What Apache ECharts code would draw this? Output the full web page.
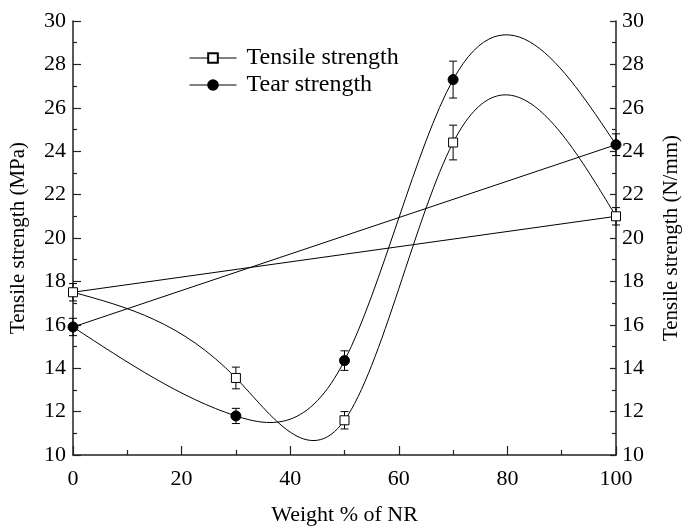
<!DOCTYPE html>
<html>
<head>
<meta charset="utf-8">
<script src="https://cdn.jsdelivr.net/npm/echarts@6/dist/echarts.min.js"></script>
<style>
  html, body { margin: 0; padding: 0; background: #fff; }
  #chart { width: 690px; height: 531px; }
</style>
</head>
<body>
<div id="chart"></div>
<script>
// Blend composition (weight % of NR)
const nrWeight = [0, 30, 50, 70, 100];

// Tensile strength (MPa) and its error
const tensile = [17.5, 13.55, 11.6, 24.4, 21.0];
const tensileErr = [0.4, 0.5, 0.4, 0.8, 0.4];

// Tear strength (N/mm) and its error
const tear = [15.9, 11.8, 14.35, 27.3, 24.3];
const tearErr = [0.4, 0.35, 0.45, 0.85, 0.5];

// Axis ticks
const xTicks = [0, 20, 40, 60, 80, 100];
const yTicks = [10, 12, 14, 16, 18, 20, 22, 24, 26, 28, 30];

const FONT = 'Liberation Serif';
const INK = '#000';
const AXIS_INK = '#222';

// Natural cubic spline through (xs, ys): returns end slopes of each segment
function naturalSpline(xs, ys) {
  const n = xs.length;
  const h = [], d = [];
  for (let i = 0; i < n - 1; i++) {
    h[i] = xs[i + 1] - xs[i];
    d[i] = (ys[i + 1] - ys[i]) / h[i];
  }
  const M = new Array(n).fill(0);
  const a = [], b = [], c = [], r = [];
  for (let i = 1; i < n - 1; i++) {
    a[i] = h[i - 1];
    b[i] = 2 * (h[i - 1] + h[i]);
    c[i] = h[i];
    r[i] = 6 * (d[i] - d[i - 1]);
  }
  for (let i = 2; i < n - 1; i++) {
    const w = a[i] / b[i - 1];
    b[i] -= w * c[i - 1];
    r[i] -= w * r[i - 1];
  }
  if (n > 2) {
    M[n - 2] = r[n - 2] / b[n - 2];
    for (let i = n - 3; i >= 1; i--) M[i] = (r[i] - c[i] * M[i + 1]) / b[i];
  }
  const segs = [];
  for (let i = 0; i < n - 1; i++) {
    segs.push({
      h: h[i],
      s0: d[i] - h[i] * (2 * M[i] + M[i + 1]) / 6,
      s1: d[i] + h[i] * (M[i] + 2 * M[i + 1]) / 6
    });
  }
  return segs;
}

// Each spline segment is drawn as one Bezier piece, mapped through the axes
function splineSeries(name, ys) {
  const segs = naturalSpline(nrWeight, ys);
  return {
    name: name + ' curve',
    type: 'custom',
    z: 2,
    data: nrWeight.map((x, i) => [x, ys[i]]),
    renderItem: function (params, api) {
      const i = params.dataIndex;
      if (i >= nrWeight.length - 1) return null;
      const s = segs[i];
      const x0 = nrWeight[i], x1 = nrWeight[i + 1];
      const p0 = api.coord([x0, ys[i]]);
      const p1 = api.coord([x0 + s.h / 3, ys[i] + s.s0 * s.h / 3]);
      const p2 = api.coord([x1 - s.h / 3, ys[i + 1] - s.s1 * s.h / 3]);
      const p3 = api.coord([x1, ys[i + 1]]);
      return {
        type: 'bezierCurve',
        shape: { x1: p0[0], y1: p0[1], cpx1: p1[0], cpy1: p1[1], cpx2: p2[0], cpy2: p2[1], x2: p3[0], y2: p3[1] },
        style: { stroke: INK, fill: null, lineWidth: 1 }
      };
    }
  };
}

// Straight line joining the first and last measurements
function chordSeries(name, ys) {
  const last = nrWeight.length - 1;
  return {
    name: name + ' chord',
    type: 'line',
    z: 2,
    symbol: 'none',
    lineStyle: { color: INK, width: 1 },
    data: [[nrWeight[0], ys[0]], [nrWeight[last], ys[last]]]
  };
}

function errorSeries(name, ys, errs) {
  return {
    name: name + ' error',
    type: 'custom',
    z: 3,
    data: nrWeight.map((x, i) => [x, ys[i], errs[i]]),
    renderItem: function (params, api) {
      const x = api.value(0), y = api.value(1), e = api.value(2);
      const top = api.coord([x, y + e]);
      const bot = api.coord([x, y - e]);
      const cap = 4;
      const st = { stroke: INK, lineWidth: 1 };
      return {
        type: 'group',
        children: [
          { type: 'line', shape: { x1: top[0], y1: top[1], x2: bot[0], y2: bot[1] }, style: st },
          { type: 'line', shape: { x1: top[0] - cap, y1: top[1], x2: top[0] + cap, y2: top[1] }, style: st },
          { type: 'line', shape: { x1: bot[0] - cap, y1: bot[1], x2: bot[0] + cap, y2: bot[1] }, style: st }
        ]
      };
    }
  };
}

function markerSeries(name, ys, symbol, fill, size) {
  return {
    name: name,
    type: 'line',
    z: 5,
    symbol: symbol,
    symbolSize: size,
    showAllSymbol: true,
    color: INK,
    lineStyle: { opacity: 0, width: 1, color: INK },
    itemStyle: { color: fill, borderColor: INK, borderWidth: 1, opacity: 1 },
    data: nrWeight.map((x, i) => [x, ys[i]])
  };
}

const axisLabelStyle = { fontFamily: FONT, fontSize: 22, color: INK };
const nameStyle = { fontFamily: FONT, fontSize: 21, color: INK };

function yAxis(position, name, labelMargin, tickLen, minorLen) {
  return {
    type: 'value',
    position: position,
    min: yTicks[0],
    max: yTicks[yTicks.length - 1],
    interval: yTicks[1] - yTicks[0],
    name: name,
    nameLocation: 'middle',
    nameRotate: 90,
    nameGap: 44,
    nameTextStyle: nameStyle,
    axisLine: { show: true, lineStyle: { color: AXIS_INK, width: 1.5 } },
    axisTick: { show: true, inside: true, length: tickLen, lineStyle: { color: AXIS_INK, width: 1.2 } },
    minorTick: { show: true, splitNumber: 2, length: minorLen, lineStyle: { color: AXIS_INK, width: 1.2 } },
    axisLabel: Object.assign({ margin: labelMargin }, axisLabelStyle),
    splitLine: { show: false }
  };
}

const chart = echarts.init(document.getElementById('chart'), null, { renderer: 'canvas' });

chart.setOption({
  animation: false,
  backgroundColor: '#fff',
  grid: { left: 73, right: 72, top: 21, bottom: 75.5, containLabel: false },
  legend: {
    orient: 'vertical',
    left: 189,
    top: 46,
    padding: 0,
    itemWidth: 47,
    itemHeight: 12,
    itemGap: 3,
    data: ['Tensile strength', 'Tear strength'],
    textStyle: { fontFamily: FONT, fontSize: 24, color: INK, lineHeight: 23, padding: [0, 0, 0, 5] },
    lineStyle: { opacity: 1, width: 1, color: INK },
    selectedMode: false
  },
  xAxis: {
    type: 'value',
    min: xTicks[0],
    max: xTicks[xTicks.length - 1],
    interval: xTicks[1] - xTicks[0],
    name: 'Weight % of NR',
    nameLocation: 'middle',
    nameGap: 49,
    nameTextStyle: Object.assign({}, nameStyle, { fontSize: 22 }),
    axisLine: { show: true, onZero: false, lineStyle: { color: AXIS_INK, width: 1.5 } },
    axisTick: { show: true, inside: true, length: 9, lineStyle: { color: AXIS_INK, width: 1.2 } },
    minorTick: { show: true, splitNumber: 2, length: 5, lineStyle: { color: AXIS_INK, width: 1.2 } },
    axisLabel: Object.assign({ margin: 13 }, axisLabelStyle),
    splitLine: { show: false }
  },
  yAxis: [
    yAxis('left', 'Tensile strength (MPa)', 7, 8, 4),
    Object.assign(yAxis('right', 'Tensile strength (N/mm)', 6, 6, 4), { nameGap: 45 })
  ],
  series: [
    splineSeries('Tensile strength', tensile),
    chordSeries('Tensile strength', tensile),
    splineSeries('Tear strength', tear),
    chordSeries('Tear strength', tear),
    errorSeries('Tensile strength', tensile, tensileErr),
    errorSeries('Tear strength', tear, tearErr),
    markerSeries('Tensile strength', tensile, 'rect', '#fff', 9),
    markerSeries('Tear strength', tear, 'circle', INK, 10)
  ]
});
</script>
</body>
</html>
